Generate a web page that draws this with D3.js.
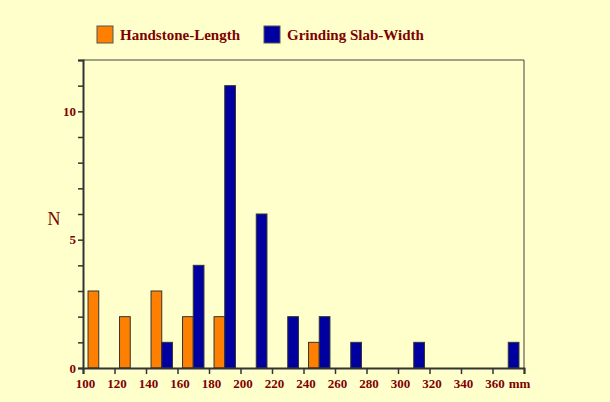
<!DOCTYPE html>
<html>
<head>
<meta charset="utf-8">
<script src="https://cdn.jsdelivr.net/npm/d3@7"></script>
<style>
  body { margin: 0; background: #ffffcc; }
  text { font-family: "Liberation Serif", "Times New Roman", serif; fill: #800000; }
</style>
</head>
<body>
<script>
var width = 610;
var height = 402;

// bin centres (mm) and counts per bin
var bins = [110, 130, 150, 170, 190, 210, 230, 250, 270, 290, 310, 330, 350, 370];
var handstoneLength = [3, 2, 3, 2, 2, 0, 0, 1, 0, 0, 0, 0, 0, 0];
var slabWidth = [0, 0, 1, 4, 11, 6, 2, 2, 1, 0, 1, 0, 0, 1];
var xTicks = [100, 120, 140, 160, 180, 200, 220, 240, 260, 280, 300, 320, 340, 360, 380];
var yTicks = [0, 1, 2, 3, 4, 5, 6, 7, 8, 9, 10, 11, 12];
var seriesNames = ["Handstone-Length", "Grinding Slab-Width"];
var colors = ["#ff8000", "#0000a0"];

var margin = {top: 60, left: 83, right: 86, bottom: 34};

var svg = d3.select("body").append("svg")
    .attr("width", width)
    .attr("height", height);

svg.append("rect")
    .attr("width", width)
    .attr("height", height)
    .attr("fill", "#ffffcc");

var x = d3.scaleLinear()
    .domain([100, 380])
    .range([margin.left, width - margin.right]);

var y = d3.scaleLinear()
    .domain([0, 12])
    .range([height - margin.bottom, margin.top]);

var barW = x(106.8) - x(100);

// frame (top + right)
svg.append("path")
    .attr("d", "M" + x(100) + "," + y(12) + "H" + x(380) + "V" + y(0))
    .attr("fill", "none")
    .attr("stroke", "#404040")
    .attr("stroke-width", 1);

var series = [handstoneLength, slabWidth];

series.forEach(function(vals, si) {
  svg.append("g").selectAll("rect")
    .data(bins.map(function(b, i) { return {bin: b, v: vals[i]}; })
      .filter(function(d) { return d.v > 0; }))
  .enter().append("rect")
    .attr("x", function(d) { return si == 0 ? x(d.bin) - barW : x(d.bin); })
    .attr("y", function(d) { return y(d.v); })
    .attr("width", barW)
    .attr("height", function(d) { return y(0) - y(d.v); })
    .attr("fill", colors[si])
    .attr("stroke", "#333")
    .attr("stroke-width", 1);
});

var xAxis = svg.append("g")
    .attr("transform", "translate(0," + y(0) + ")")
    .call(d3.axisBottom(x).tickValues(xTicks).tickSize(6).tickPadding(5)
      .tickFormat(function(d) { return d == 380 ? "mm" : d; }));

var yAxis = svg.append("g")
    .attr("transform", "translate(" + x(100) + ",0)")
    .call(d3.axisLeft(y).tickValues(yTicks).tickSize(5).tickPadding(2)
      .tickFormat(function(d) { return d % 5 == 0 ? d : ""; }));

[xAxis, yAxis].forEach(function(g) {
  g.select(".domain").attr("stroke", "#333").attr("stroke-width", 2);
  g.selectAll(".tick line").attr("stroke", "#333").attr("stroke-width", 1.5);
  g.selectAll("text")
    .attr("fill", "#800000")
    .style("font-family", "'Liberation Serif', serif")
    .style("font-size", "13px")
    .style("font-weight", "bold");
});

xAxis.selectAll(".tick text").attr("dx", function(d) { return d == 380 ? -5 : 2; });

svg.append("text")
    .attr("x", 54)
    .attr("y", 225)
    .attr("text-anchor", "middle")
    .style("font-size", "18px")
    .text("N");

// legend
var legend = svg.append("g");
var legendX = [97, 264];
seriesNames.forEach(function(name, i) {
  legend.append("rect")
    .attr("x", legendX[i])
    .attr("y", 26)
    .attr("width", 16)
    .attr("height", 17)
    .attr("fill", colors[i])
    .attr("stroke", "#555");
  legend.append("text")
    .attr("x", legendX[i] + 23)
    .attr("y", 39.5)
    .style("font-size", "15px")
    .style("font-weight", "bold")
    .text(name);
});
</script>
</body>
</html>
